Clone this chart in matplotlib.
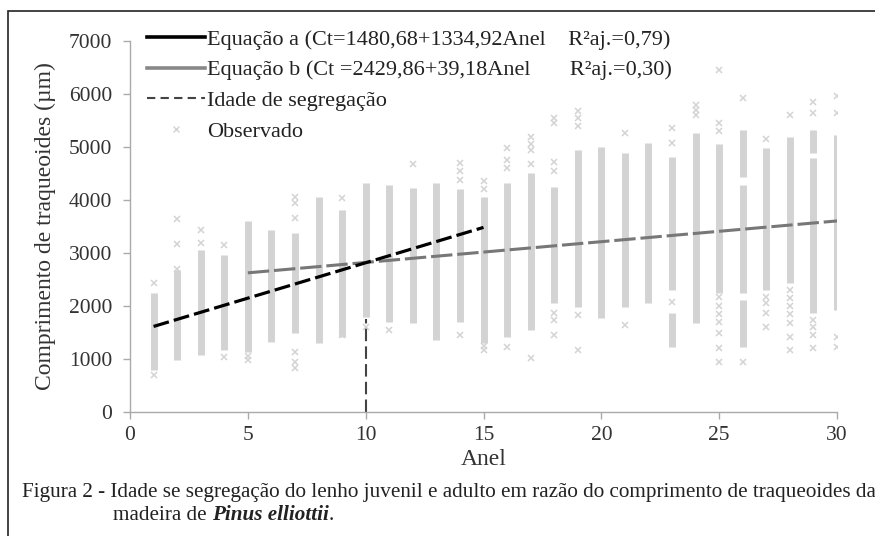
import matplotlib
matplotlib.use("Agg")
import matplotlib.pyplot as plt
from matplotlib.lines import Line2D
from matplotlib.patches import Rectangle

plt.rcParams['font.family'] = ['Liberation Serif', 'DejaVu Serif']

# anel (ring) number
rings = list(range(1, 31))

# dense part of each column of observed tracheid lengths (um)
band_lo = [800, 980, 1080, 1170, 1130, 1320, 1490, 1300, 1420, 1800,
           1700, 1680, 1360, 1700, 1300, 1420, 1550, 2060, 1990, 1780,
           1990, 2060, 2300, 1680, 2250, 2250, 2300, 2440, 1870, 1930]
band_hi = [2250, 2680, 3060, 2970, 3600, 3440, 3380, 4060, 3820, 4330,
           4290, 4230, 4330, 4200, 4060, 4330, 4510, 4250, 4950, 5000,
           4890, 5080, 4820, 5270, 5050, 4290, 4990, 5180, 4800, 5230]

# extra dense clusters detached from the main column
extra_ring = [23, 26, 26, 29]
extra_lo = [1230, 4440, 1230, 4890]
extra_hi = [1870, 5330, 2120, 5330]

# isolated observations
out_ring = [1, 1, 2, 2, 2, 3, 3, 4, 4, 5, 5,
            7, 7, 7, 7, 7, 7, 9, 9, 10, 11, 12,
            14, 14, 14, 14, 15, 15, 15, 15,
            16, 16, 16, 16, 17, 17, 17, 17, 17,
            18, 18, 18, 18, 18, 18, 18, 19, 19, 19, 19, 19,
            21, 21, 23, 23, 23, 24, 24, 24,
            25, 25, 25, 25, 25, 25, 25, 25, 25, 25,
            26, 26, 27, 27, 27, 27, 27,
            28, 28, 28, 28, 28, 28, 28, 28,
            29, 29, 29, 29, 29, 29, 30, 30, 30, 30]
out_val = [2440, 700, 3650, 3170, 2700, 3440, 3190, 3150, 1040, 980, 1050,
           4060, 3950, 3665, 1130, 950, 830, 4040, 1450, 1600, 1550, 4670,
           4700, 4550, 4380, 1450, 4350, 4200, 1250, 1170,
           4990, 4760, 4600, 1230, 5180, 5050, 4950, 4670, 1020,
           5550, 5450, 4720, 4540, 1870, 1740, 1450, 5670, 5550, 5400, 1830, 1170,
           5270, 1640, 5360, 5080, 2080, 5800, 5700, 5610,
           6460, 5460, 5300, 2170, 2000, 1850, 1700, 1490, 1210, 950,
           5920, 950, 5150, 2170, 2050, 1870, 1610,
           5610, 2300, 2150, 2000, 1850, 1680, 1420, 1170,
           5840, 5650, 1740, 1600, 1450, 1210, 5970, 5650, 1420, 1230]

# fitted equations
a_int, a_slope, a_range = 1480.68, 133.492, (1, 15)
b_int, b_slope, b_range = 2429.86, 39.18, (5, 30)
seg_age, seg_top = 10, 1750

labels = ['Equação a (Ct=1480,68+1334,92Anel    R²aj.=0,79)',
          'Equação b (Ct =2429,86+39,18Anel       R²aj.=0,30)',
          'Idade de segregação',
          'Observado']

W, H = 875, 536
fig = plt.figure(figsize=(W / 100, H / 100), dpi=100)
ax = fig.add_axes([130 / W, 1 - 412 / H, 707 / W, 371 / H])

pt_col = '#d3d3d3'
ax.vlines(rings, band_lo, band_hi, color=pt_col, lw=5, zorder=1)
ax.vlines(extra_ring, extra_lo, extra_hi, color=pt_col, lw=5, zorder=1)
ax.plot(out_ring, out_val, ls='none', marker='x', ms=4.5, mew=1.1,
        color=pt_col, zorder=1)

xa = list(a_range)
ax.plot(xa, [a_int + a_slope * x for x in xa], color='black', lw=2.3,
        dashes=(5, 1.6), zorder=3)
xb = list(b_range)
ax.plot(xb, [b_int + b_slope * x for x in xb], color='#777777', lw=2.2,
        dashes=(7, 1.6), zorder=2)
ax.plot([seg_age, seg_age], [0, seg_top], color='#444444', lw=1.5,
        dashes=(6, 2.5), zorder=2)

ax.set_xlim(0, 30)
ax.set_ylim(0, 7000)
ax.set_xticks(range(0, 31, 5))
ax.set_yticks(range(0, 7001, 1000))
for s in ['top', 'right']:
    ax.spines[s].set_visible(False)
for s in ['left', 'bottom']:
    ax.spines[s].set_color('#aaaaaa')
    ax.spines[s].set_linewidth(1.0)
ax.tick_params(colors='#aaaaaa', labelcolor='#333333', labelsize=15.5,
               length=5, width=1.0, direction='out')
ax.tick_params(axis='y', pad=8)
ax.tick_params(axis='x', pad=5)
ax.set_xlabel('Anel', fontsize=17, color='#333333', labelpad=3)
ax.set_ylabel('Comprimento de traqueoides (µm)', fontsize=17,
              color='#333333', labelpad=9)

handles = [Line2D([], [], color='black', lw=2.6),
           Line2D([], [], color='#888888', lw=2.6),
           Line2D([], [], color='#444444', lw=1.5, dashes=(4, 2.5)),
           Line2D([], [], ls='none', marker='x', ms=5, mew=1, color=pt_col)]
leg = ax.legend(handles, labels, loc='upper left', frameon=False,
                bbox_to_anchor=(147 / W, 1 - 29 / H),
                bbox_transform=fig.transFigure, fontsize=16,
                handlelength=2.6, handletextpad=0.12, labelspacing=0.46,
                borderpad=0, borderaxespad=0)
for t in leg.get_texts():
    t.set_color('#222222')

# frame around the figure (only left and top visible in the crop)
fig.add_artist(Rectangle((8 / W, -0.2), 1.2, 1.2 - 11 / H,
                         transform=fig.transFigure, fill=False,
                         ec='#222222', lw=1.2, clip_on=False))

cap_kw = dict(fontsize=15.2, color='#222222', va='center')
fig.text(22 / W, 1 - 493 / H,
         'Figura 2 - Idade se segregação do lenho juvenil e adulto em razão '
         'do comprimento de traqueoides da', **cap_kw)
t1 = fig.text(113 / W, 1 - 515 / H, 'madeira de ', **cap_kw)
r = fig.canvas.get_renderer()
x1 = t1.get_window_extent(r).x1
t2 = fig.text(x1 / W, 1 - 515 / H, 'Pinus elliottii', fontweight='bold',
              style='italic', **cap_kw)
x2 = t2.get_window_extent(r).x1
fig.text(x2 / W, 1 - 515 / H, '.', **cap_kw)

fig.savefig('out.png', dpi=100)
